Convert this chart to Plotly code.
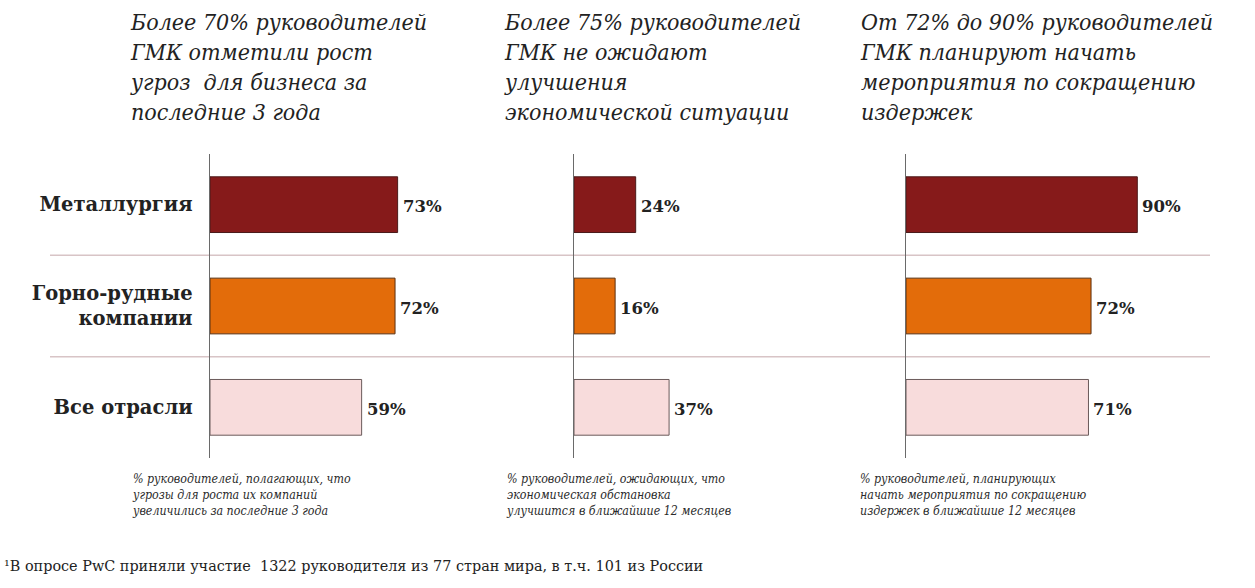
import plotly.graph_objects as go

W, H = 1255, 588

categories = ["Металлургия", "Горно-рудные<br>компании", "Все отрасли"]
threats_growth = [73, 72, 59]
no_improvement = [24, 16, 37]
cost_cutting = [90, 72, 71]
series = [threats_growth, no_improvement, cost_cutting]

panel_titles = [
    "Более 70% руководителей<br>ГМК отметили рост<br>угроз  для бизнеса за<br>последние 3 года",
    "Более 75% руководителей<br>ГМК не ожидают<br>улучшения<br>экономической ситуации",
    "От 72% до 90% руководителей<br>ГМК планируют начать<br>мероприятия по сокращению<br>издержек",
]
panel_notes = [
    "% руководителей, полагающих, что<br>угрозы для роста их компаний<br>увеличились за последние 3 года",
    "% руководителей, ожидающих, что<br>экономическая обстановка<br>улучшится в ближайшие 12 месяцев",
    "% руководителей, планирующих<br>начать мероприятия по сокращению<br>издержек в ближайшие 12 месяцев",
]
footnote = "¹В опросе PwC приняли участие  1322 руководителя из 77 стран мира, в т.ч. 101 из России"

bar_colors = ["#861A1A", "#E36C0A", "#F8DCDC"]
bar_lines = ["#4A1A1A", "#5A3010", "#6A5A5A"]

# layout (pixels)
axis_px = [210, 574, 906]
px_per_100 = 257
title_px = [128, 502, 858]
note_px = [130, 504, 858]
ydom = [1 - 458 / H, 1 - 154 / H]

SERIF = "DejaVu Serif"
SERIF_C = "DejaVu Serif Condensed, DejaVu Serif"

fig = go.Figure()
for i, vals in enumerate(series):
    xa = "x" if i == 0 else f"x{i+1}"
    ya = "y" if i == 0 else f"y{i+1}"
    fig.add_trace(go.Bar(
        x=vals, y=categories, orientation="h",
        marker=dict(color=bar_colors, line=dict(color=bar_lines, width=1)),
        width=0.55, xaxis=xa, yaxis=ya, showlegend=False, hoverinfo="skip",
    ))
    for v, c in zip(vals, categories):
        fig.add_annotation(
            x=v, y=c, xref=xa, yref=ya, text=f"<b>{v}%</b>", showarrow=False,
            xanchor="left", yanchor="middle", xshift=3, yshift=-2,
            font=dict(family=SERIF, size=16.5, color="#222"),
        )
    d0 = axis_px[i] / W
    d1 = (axis_px[i] + px_per_100) / W
    fig.layout[f"xaxis{'' if i == 0 else i+1}"] = dict(
        domain=[d0, d1], range=[0, 100], showgrid=False, zeroline=False,
        showticklabels=False, showline=False, anchor=ya, fixedrange=True,
    )
    fig.layout[f"yaxis{'' if i == 0 else i+1}"] = dict(
        domain=ydom, anchor=xa, autorange="reversed", showgrid=False,
        zeroline=False, showline=True, linecolor="#6a6a6a", linewidth=1.5,
        showticklabels=(i == 0), ticks="", ticklabelstandoff=12,
        tickfont=dict(family=SERIF, size=19.5, color="#222", weight="bold"),
        categoryorder="array", categoryarray=categories, fixedrange=True,
    )
    # titles
    fig.add_annotation(
        x=title_px[i] / W, y=1 - 7 / H, xref="paper", yref="paper",
        text=f"<i>{panel_titles[i]}</i>", showarrow=False, align="left",
        xanchor="left", yanchor="top",
        font=dict(family=SERIF_C, size=23, color="#222"),
    )
    fig.add_annotation(
        x=note_px[i] / W, y=1 - 470 / H, xref="paper", yref="paper",
        text=f"<i>{panel_notes[i]}</i>", showarrow=False, align="left",
        xanchor="left", yanchor="top",
        font=dict(family=SERIF_C, size=12.3, color="#2a2a2a"),
    )

# separators between categories
for yv in [0.5, 1.5]:
    fig.add_shape(type="line", xref="paper", yref="y", x0=50 / W, x1=1210 / W,
                  y0=yv, y1=yv, line=dict(color="#d8c4c6", width=1.5), layer="below")

fig.add_annotation(
    x=2 / W, y=1 - 566 / H, xref="paper", yref="paper", text=footnote,
    showarrow=False, xanchor="left", yanchor="middle", align="left",
    font=dict(family=SERIF, size=14.4, color="#222"),
)

fig.update_layout(
    width=W, height=H, margin=dict(l=0, r=0, t=0, b=0),
    paper_bgcolor="white", plot_bgcolor="rgba(0,0,0,0)", bargap=0.45,
)

fig.write_html("out.html", config={"displayModeBar": False, "staticPlot": True},
               post_script="document.body.style.margin='0px';")
